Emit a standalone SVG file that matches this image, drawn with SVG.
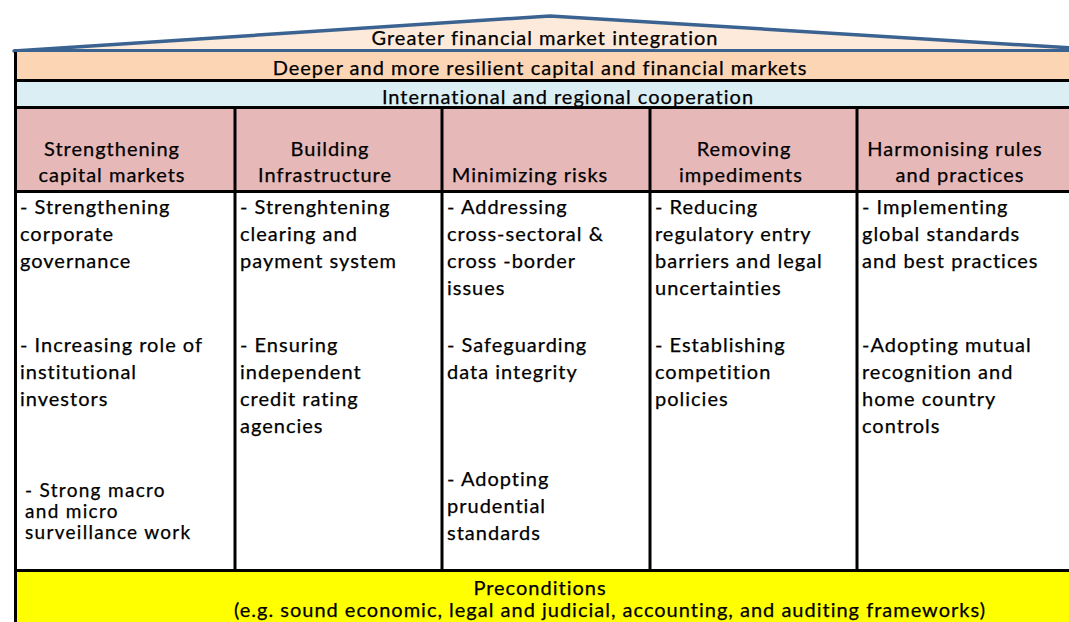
<svg xmlns="http://www.w3.org/2000/svg" width="1069" height="622" viewBox="0 0 1069 622">
<style>
text{font-family:Lato,"Open Sans","Liberation Sans",sans-serif;font-size:20px;fill:#000;letter-spacing:1px;stroke:#000;stroke-width:0.25px;}
.c{text-anchor:middle;}
.t{font-size:19px;letter-spacing:1.3px;}
.line{stroke:#000;stroke-width:3;fill:none;}
</style>
<rect x="0" y="0" width="1069" height="622" fill="#fff"/>
<g id="roof">
<polygon points="14,51 550,16 1072,48 1072,51" fill="#fdeada" stroke="#3b6391" stroke-width="3.5" stroke-linejoin="round"/>
<text class="c" x="545" y="45">Greater financial market integration</text>
</g>
<g id="deeper-markets">
<rect x="15" y="52" width="1060" height="28" fill="#fcd5b4"/>
<text class="c" x="540" y="75">Deeper and more resilient capital and financial markets</text>
</g>
<g id="cooperation">
<rect x="15" y="81" width="1060" height="26" fill="#dbeef4"/>
<text class="c" x="568" y="104">International and regional cooperation</text>
</g>
<g id="header-band">
<rect x="15" y="108" width="1060" height="83" fill="#e6b9b8"/>
</g>
<g id="body-band">
<rect x="15" y="192" width="1060" height="378" fill="#fff"/>
</g>
<g id="col-capital-markets">
<text class="c" x="112" y="156">Strengthening</text>
<text class="c" x="112" y="182">capital markets</text>
<text x="20" y="214">- Strengthening</text>
<text x="20" y="241">corporate</text>
<text x="20" y="268">governance</text>
<text x="20" y="352">- Increasing role of</text>
<text x="20" y="379">institutional</text>
<text x="20" y="406">investors</text>
<text class="t" x="25" y="497">- Strong macro</text>
<text class="t" x="25" y="518">and micro</text>
<text class="t" x="25" y="539">surveillance work</text>
</g>
<g id="col-infrastructure">
<text class="c" x="330" y="156">Building</text>
<text class="c" x="325" y="182">Infrastructure</text>
<text x="240" y="214">- Strenghtening</text>
<text x="240" y="241">clearing and</text>
<text x="240" y="268">payment system</text>
<text x="240" y="352">- Ensuring</text>
<text x="240" y="379">independent</text>
<text x="240" y="406">credit rating</text>
<text x="240" y="433">agencies</text>
</g>
<g id="col-risks">
<text class="c" x="530" y="182">Minimizing risks</text>
<text x="447" y="214">- Addressing</text>
<text x="447" y="241">cross-sectoral &amp;</text>
<text x="447" y="268">cross -border</text>
<text x="447" y="295">issues</text>
<text x="447" y="352">- Safeguarding</text>
<text x="447" y="379">data integrity</text>
<text x="447" y="486">- Adopting</text>
<text x="447" y="513">prudential</text>
<text x="447" y="540">standards</text>
</g>
<g id="col-impediments">
<text class="c" x="744" y="156">Removing</text>
<text class="c" x="741" y="182">impediments</text>
<text x="655" y="214">- Reducing</text>
<text x="655" y="241">regulatory entry</text>
<text x="655" y="268">barriers and legal</text>
<text x="655" y="295">uncertainties</text>
<text x="655" y="352">- Establishing</text>
<text x="655" y="379">competition</text>
<text x="655" y="406">policies</text>
</g>
<g id="col-harmonising">
<text class="c" x="955" y="156">Harmonising rules</text>
<text class="c" x="960" y="182">and practices</text>
<text x="862" y="214">- Implementing</text>
<text x="862" y="241">global standards</text>
<text x="862" y="268">and best practices</text>
<text x="862" y="352">-Adopting mutual</text>
<text x="862" y="379">recognition and</text>
<text x="862" y="406">home country</text>
<text x="862" y="433">controls</text>
</g>
<g id="preconditions">
<rect x="15" y="571" width="1060" height="55" fill="#ffff00"/>
<text class="c" x="540" y="595">Preconditions</text>
<text class="c" x="610" y="617">(e.g. sound economic, legal and judicial, accounting, and auditing frameworks)</text>
</g>
<g id="connectors">
<line class="line" x1="15.5" y1="50" x2="15.5" y2="622"/>
<line class="line" x1="15" y1="80.5" x2="1069" y2="80.5"/>
<line class="line" x1="15" y1="107.5" x2="1069" y2="107.5"/>
<line class="line" x1="15" y1="191.5" x2="1069" y2="191.5"/>
<line class="line" x1="15" y1="570.5" x2="1069" y2="570.5"/>
<line class="line" x1="235" y1="108" x2="235" y2="570"/>
<line class="line" x1="442" y1="108" x2="442" y2="570"/>
<line class="line" x1="650" y1="108" x2="650" y2="570"/>
<line class="line" x1="857" y1="108" x2="857" y2="570"/>
<line x1="14" y1="50.5" x2="1069" y2="50.5" stroke="#3b6391" stroke-width="3"/>
</g>
</svg>
